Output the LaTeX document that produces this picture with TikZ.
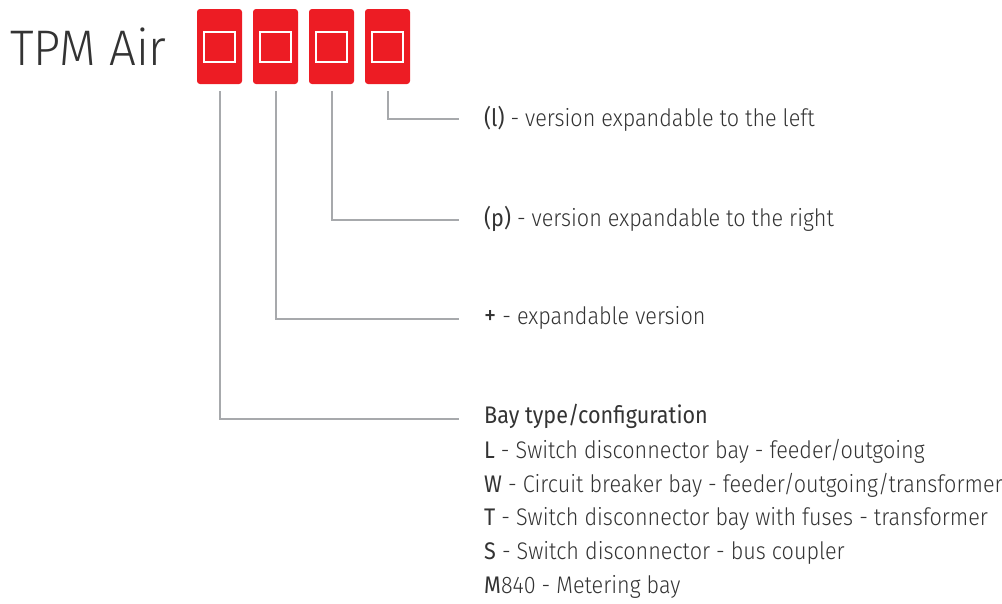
\documentclass[tikz,border=0pt]{standalone}
\usepackage{fontspec}
\setmainfont{Fira Sans}
\newfontfamily\lightf{Fira Sans Light}[FakeStretch=0.9]
\newfontfamily\regf{Fira Sans}[FakeStretch=0.9]
\newfontfamily\titlef{Fira Sans Light}[FakeStretch=0.95]
\definecolor{tpmred}{HTML}{ED1C24}
\definecolor{lgray}{HTML}{A7A9AC}
\definecolor{txt}{HTML}{333333}
\begin{document}
\begin{tikzpicture}[x=1pt,y=-1pt,
  bay/.style={fill=tpmred,draw=none,rounded corners=3pt,minimum width=45pt,minimum height=75pt,inner sep=0pt},
  sq/.style={draw=white,line width=2.2pt,minimum width=31pt,minimum height=30pt,inner sep=0pt},
  conn/.style={draw=lgray,line width=2pt,shorten <=7pt,shorten >=25pt},
  lbl/.style={anchor=west,inner sep=0pt,text=txt,font=\lightf\fontsize{24}{27}\selectfont}
]
\useasboundingbox (0,0) rectangle (1002,603);
\node[anchor=west,inner sep=0pt,text=txt,font=\titlef\fontsize{50}{56}\selectfont] (title) at (10,47) {TPM Air};
\foreach \i/\x in {1/219.5,2/275.5,3/331.5,4/387.5}{
  \node[bay] (b\i) at (\x,46.5) {};
  \node[sq] (s\i) at (\x,47) {};
}
\node[lbl] (tl) at (484,119) {{\regf(l)} - version expandable to the left};
\node[lbl] (tp) at (484,219) {{\regf(p)} - version expandable to the right};
\node[lbl] (tplus) at (484,318) {{\regf\fontsize{27}{27}\selectfont+} - expandable version};
\node[lbl] (tbay) at (484,416) {{\regf Bay type/configuration}};
\node[lbl] (tL) at (484,451) {{\regf L} - Switch disconnector bay - feeder/outgoing};
\node[lbl] (tW) at (484,485) {{\regf W} - Circuit breaker bay - feeder/outgoing/transformer};
\node[lbl] (tT) at (484,519) {{\regf T} - Switch disconnector bay with fuses - transformer};
\node[lbl] (tS) at (484,553) {{\regf S} - Switch disconnector - bus coupler};
\node[lbl] (tM) at (484,587) {{\regf M}840 - Metering bay};
\coordinate (e4) at (484,119);
\coordinate (e3) at (484,220);
\coordinate (e2) at (484,319);
\coordinate (e1) at (484,419);
\draw[conn] (b4.south) |- (e4);
\draw[conn] (b3.south) |- (e3);
\draw[conn] (b2.south) |- (e2);
\draw[conn] (b1.south) |- (e1);
\end{tikzpicture}
\end{document}
